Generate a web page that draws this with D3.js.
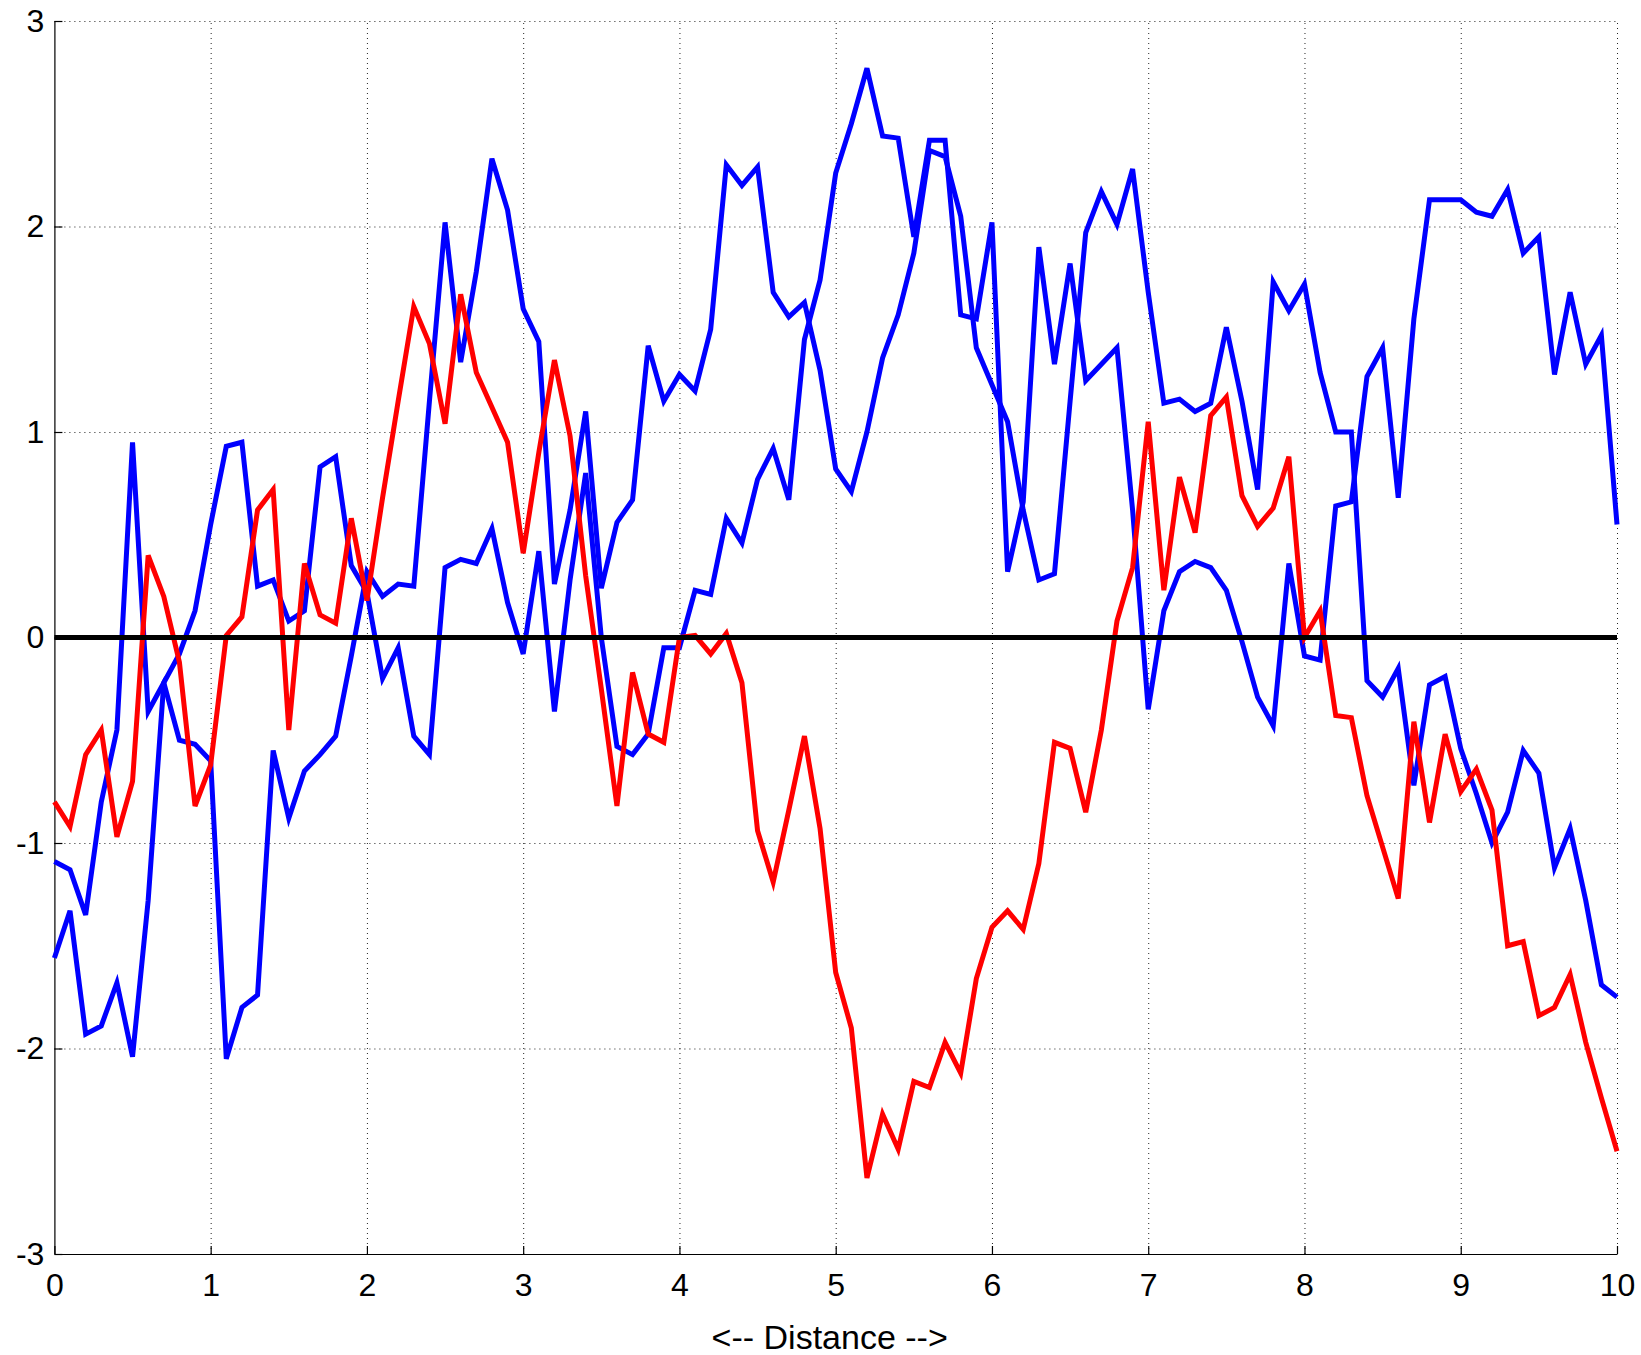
<!DOCTYPE html>
<html>
<head>
<meta charset="UTF-8">
<title>Distance</title>
<script src="https://cdnjs.cloudflare.com/ajax/libs/d3/7.8.5/d3.min.js"></script>
<style>
body { margin: 0; background: #fff; }
svg { display: block; }
.grid line { stroke: #222; stroke-width: 1; stroke-dasharray: 1,4; }
.grid .domain { display: none; }
.axis text { font-family: "Liberation Sans", Arial, sans-serif; font-size: 32px; fill: #000; }
.axis path, .axis line { stroke: #000; stroke-width: 1.2; }
</style>
</head>
<body>
<script>
// distance samples (x)
var distance = [0,0.1,0.2,0.3,0.4,0.5,0.6,0.7,0.8,0.9,
  1,1.1,1.2,1.3,1.4,1.5,1.6,1.7,1.8,1.9,
  2,2.1,2.2,2.3,2.4,2.5,2.6,2.7,2.8,2.9,
  3,3.1,3.2,3.3,3.4,3.5,3.6,3.7,3.8,3.9,
  4,4.1,4.2,4.3,4.4,4.5,4.6,4.7,4.8,4.9,
  5,5.1,5.2,5.3,5.4,5.5,5.6,5.7,5.8,5.9,
  6,6.1,6.2,6.3,6.4,6.5,6.6,6.7,6.8,6.9,
  7,7.1,7.2,7.3,7.4,7.5,7.6,7.7,7.8,7.9,
  8,8.1,8.2,8.3,8.4,8.5,8.6,8.7,8.8,8.9,
  9,9.1,9.2,9.3,9.4,9.5,9.6,9.7,9.8,9.9,10];

// blue path 1
var blue1 = [-1.09,-1.13,-1.35,-0.80,-0.45,0.95,-0.36,-0.22,-0.50,-0.52,
  -0.60,-2.05,-1.80,-1.74,-0.55,-0.88,-0.65,-0.57,-0.48,-0.09,
  0.32,0.20,0.26,0.25,1.15,2.02,1.34,1.78,2.33,2.08,
  1.60,1.44,0.26,0.62,1.10,0.24,0.56,0.67,1.42,1.15,
  1.28,1.20,1.50,2.30,2.20,2.29,1.68,1.56,1.63,1.30,
  0.82,0.71,1.00,1.36,1.57,1.87,2.37,2.34,2.05,1.41,
  1.23,1.05,0.62,0.28,0.31,1.15,1.97,2.17,2.01,2.28,
  1.68,1.14,1.16,1.10,1.14,1.51,1.15,0.72,1.73,1.59,
  1.72,1.29,1.00,1.00,-0.21,-0.29,-0.15,-0.72,-0.23,-0.19,
  -0.54,-0.76,-1.00,-0.85,-0.55,-0.66,-1.12,-0.93,-1.28,-1.69,-1.75];

// blue path 2
var blue2 = [-1.56,-1.33,-1.93,-1.89,-1.68,-2.04,-1.28,-0.22,-0.08,0.13,
  0.55,0.93,0.95,0.25,0.28,0.08,0.13,0.83,0.88,0.35,
  0.22,-0.20,-0.05,-0.48,-0.57,0.34,0.38,0.36,0.53,0.17,
  -0.08,0.42,-0.36,0.28,0.80,0.00,-0.53,-0.57,-0.47,-0.05,
  -0.05,0.23,0.21,0.58,0.46,0.77,0.92,0.67,1.45,1.74,
  2.26,2.50,2.77,2.44,2.43,1.95,2.42,2.42,1.57,1.55,
  2.02,0.32,0.66,1.90,1.33,1.82,1.25,1.33,1.41,0.62,
  -0.35,0.13,0.32,0.37,0.34,0.23,-0.02,-0.29,-0.43,0.36,
  -0.09,-0.11,0.64,0.66,1.27,1.41,0.68,1.55,2.13,2.13,
  2.13,2.07,2.05,2.18,1.87,1.95,1.28,1.68,1.33,1.47,0.55];

// red path
var red1 = [-0.80,-0.92,-0.57,-0.45,-0.97,-0.70,0.40,0.20,-0.12,-0.82,
  -0.62,0.01,0.10,0.62,0.72,-0.45,0.36,0.11,0.07,0.58,
  0.18,0.68,1.15,1.61,1.43,1.04,1.67,1.29,1.12,0.95,
  0.41,0.90,1.35,0.98,0.30,-0.25,-0.82,-0.17,-0.47,-0.51,
  0.00,0.01,-0.08,0.02,-0.22,-0.94,-1.19,-0.84,-0.48,-0.93,
  -1.63,-1.90,-2.63,-2.32,-2.49,-2.16,-2.19,-1.97,-2.12,-1.66,
  -1.41,-1.33,-1.42,-1.10,-0.51,-0.54,-0.85,-0.45,0.08,0.34,
  1.05,0.23,0.78,0.51,1.08,1.17,0.69,0.54,0.63,0.88,
  0.00,0.13,-0.38,-0.39,-0.77,-1.02,-1.27,-0.41,-0.90,-0.47,
  -0.75,-0.64,-0.84,-1.50,-1.48,-1.84,-1.80,-1.64,-1.97,-2.24,-2.50];

// zero reference line
var zeroX = [0, 10];
var zeroY = [0, 0];

var xTicks = [0,1,2,3,4,5,6,7,8,9,10];
var yTicks = [-3,-2,-1,0,1,2,3];
var xLabel = "<-- Distance -->";

var W = 1641, H = 1355;
var margin = { top: 21, right: 24, bottom: 101, left: 54.4 };

var svg = d3.select("body").append("svg")
  .attr("width", W)
  .attr("height", H);

var xScale = d3.scaleLinear().domain([0, 10]).range([margin.left, W - margin.right]);
var yScale = d3.scaleLinear().domain([-3, 3]).range([H - margin.bottom, margin.top]);
var plotH = H - margin.bottom - margin.top;
var plotW = W - margin.right - margin.left;

// dotted grid
svg.append("g")
  .attr("class", "grid")
  .attr("transform", "translate(0," + (H - margin.bottom) + ")")
  .call(d3.axisBottom(xScale).tickValues(xTicks.slice(1)).tickSize(-plotH).tickFormat(""));
svg.append("g")
  .attr("class", "grid")
  .attr("transform", "translate(" + margin.left + ",0)")
  .call(d3.axisLeft(yScale).tickValues(yTicks.slice(1)).tickSize(-plotW).tickFormat(""));

// axes
svg.append("g")
  .attr("class", "axis")
  .attr("transform", "translate(0," + (H - margin.bottom) + ")")
  .call(d3.axisBottom(xScale).tickValues(xTicks).tickSize(-8).tickSizeOuter(0)
    .tickPadding(19).tickFormat(function(d) { return String(d); }));
svg.append("g")
  .attr("class", "axis")
  .attr("transform", "translate(" + margin.left + ",0)")
  .call(d3.axisLeft(yScale).tickValues(yTicks).tickSize(-8).tickSizeOuter(0)
    .tickPadding(10).tickFormat(function(d) { return String(d); }));

svg.append("text")
  .attr("x", xScale(5) - 6)
  .attr("y", 1349)
  .attr("text-anchor", "middle")
  .style("font-family", '"Liberation Sans", Arial, sans-serif')
  .style("font-size", "34px")
  .text(xLabel);

// lines
var line = d3.line()
  .x(function(d) { return xScale(d[0]); })
  .y(function(d) { return yScale(d[1]); });

function pairs(xs, ys) {
  return xs.map(function(x, i) { return [x, ys[i]]; });
}

var series = [
  { values: blue1, color: "#0000ff", width: 5 },
  { values: blue2, color: "#0000ff", width: 5 },
  { values: red1, color: "#ff0000", width: 5 }
];

svg.selectAll("path.series")
  .data(series)
  .enter()
  .append("path")
  .attr("class", "series")
  .attr("d", function(s) { return line(pairs(distance, s.values)); })
  .attr("fill", "none")
  .attr("stroke", function(s) { return s.color; })
  .attr("stroke-width", function(s) { return s.width; })
  .attr("stroke-linejoin", "miter");

svg.append("path")
  .attr("d", line(pairs(zeroX, zeroY)))
  .attr("fill", "none")
  .attr("stroke", "#000")
  .attr("stroke-width", 5);
</script>
</body>
</html>
